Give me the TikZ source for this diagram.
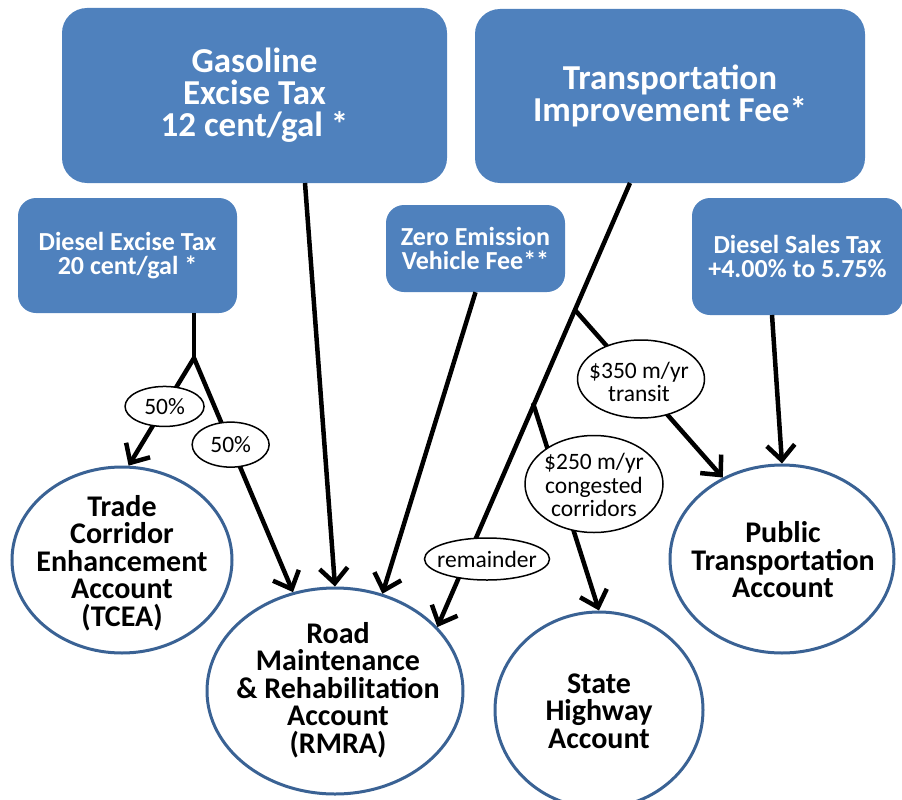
\documentclass[tikz,border=0pt]{standalone}
\usepackage{fontspec}
\setmainfont{Carlito}
\usepackage{xcolor}
\usepackage{tikz}
\usetikzlibrary{
    positioning,
    arrows.meta,
    shapes.geometric,
    calc
}
\definecolor{fundblue}{HTML}{4F81BD}
\definecolor{ringblue}{HTML}{3A6294}
\tikzset{
    src_box/.style={
        rectangle, fill=fundblue, draw=none,
        rounded corners=25pt, inner sep=0pt,
        text=white, align=center,
        font=\bfseries\fontsize{35}{32}\selectfont
    },
    src_box_small/.style={
        src_box, rounded corners=18pt,
        font=\bfseries\fontsize{26}{24}\selectfont
    },
    account/.style={
        ellipse, draw=ringblue, line width=3pt, fill=white, inner sep=0pt
    },
    share_label/.style={
        ellipse, draw=black, line width=1.5pt, fill=white, inner sep=0pt,
        align=center, font=\fontsize{23.5}{23.5}\selectfont
    },
    flow_line/.style={
        line width=4.5pt, draw=black
    },
    arrow/.style={
        flow_line, -{Straight Barb[length=15pt, width=28pt]}
    }
}
\begin{document}
\begin{tikzpicture}[
    x=1pt, y=-1pt,
    account_text/.style={align=center, font=\bfseries\fontsize{30}{27.5}\selectfont},
    share_text/.style={align=center, font=\fontsize{23.5}{23.5}\selectfont}
]
    \useasboundingbox (0,0) rectangle (902,800);

    % --- REVENUE SOURCES ---
    \node[src_box, minimum width=385pt, minimum height=175pt] (gas) at (254.5,95.5) {Gasoline\\Excise Tax\\12 cent/gal *};
    \node[src_box, minimum width=390pt, minimum height=174pt] (tif) at (670,96) {Transportation\\Improvement Fee*};
    \node[src_box_small, minimum width=219pt, minimum height=115pt] (dex) at (127.5,255.5) {Diesel Excise Tax\\20 cent/gal *};
    \node[src_box_small, minimum width=179pt, minimum height=87pt] (zev) at (475.5,248.5) {Zero Emission\\Vehicle Fee**};
    \node[src_box_small, minimum width=211pt, minimum height=117pt] (dst) at (797.5,256.5) {Diesel Sales Tax\\+4.00\% to 5.75\%};

    % --- ACCOUNTS ---
    \node[account, minimum width=220pt, minimum height=186pt] (tcea) at (122,560) {};
    \node[account_text] (tcea_txt) at (122,563) {Trade\\Corridor\\Enhancement\\Account\\(TCEA)};
    \node[account, minimum width=256pt, minimum height=206pt] (rmra) at (335,691) {};
    \node[account_text] (rmra_txt) at (338,690) {Road\\Maintenance\\\& Rehabilitation\\Account\\(RMRA)};
    \node[account, minimum width=208pt, minimum height=196pt] (sha) at (599,710) {};
    \node[account_text] (sha_txt) at (599,711) {State\\Highway\\Account};
    \node[account, minimum width=224pt, minimum height=188pt] (pta) at (782,559) {};
    \node[account_text] (pta_txt) at (783,560) {Public\\Transportation\\Account};

    % --- BRANCH POINTS ---
    \coordinate (gas_out) at (305,183);
    \coordinate (dex_split) at (194,358);
    \coordinate (tif_out) at (630,183);
    \coordinate (tif_transit) at (575,310);
    \coordinate (tif_corr) at (533,403);
    \coordinate (dst_out) at (772,315);

    % --- FLOWS ---
    \draw[arrow] (gas_out) -- (rmra.north);
    \draw[arrow] (zev.south) -- (rmra.64);
    \draw[flow_line] (dex.south -| dex_split) -- (dex_split);
    \draw[arrow] (dex_split) -- node[share_label, pos=0.45, minimum width=79pt, minimum height=40pt] (half_tcea) {50\%} (tcea.86);
    \draw[arrow] (dex_split) -- node[share_label, pos=0.37, minimum width=77pt, minimum height=45pt] (half_rmra) {50\%} (rmra.113);
    \draw[arrow] (tif_out) -- (rmra.32);
    \draw[arrow] (tif_transit) -- (pta.126);
    \draw[arrow] (tif_corr) -- (sha.north);
    \draw[arrow] (dst_out) -- (pta.north);

    % --- SHARE LABELS (on top of the flows) ---
    \node[share_label, minimum width=127pt, minimum height=78pt] (transit) at (641,379) {};
    \node[share_text] (transit_txt) at (639,382) {\$350 m/yr\\transit};
    \node[share_label, minimum width=138pt, minimum height=97pt] (corridors) at (594,484) {};
    \node[share_text] (corridors_txt) at (594,485) {\$250 m/yr\\congested\\corridors};
    \node[share_label, minimum width=125pt, minimum height=42pt] (remainder) at (487,559) {};
    \node[share_text] (remainder_txt) at (487,559) {remainder};

\end{tikzpicture}
\end{document}
